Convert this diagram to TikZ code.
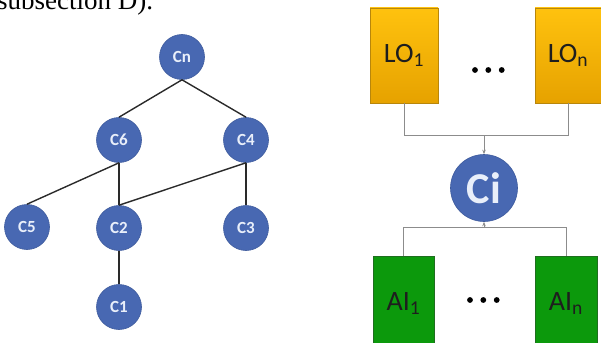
\documentclass[tikz,border=0pt]{standalone}
\usepackage{fontspec}
\setmainfont{Carlito}
\newfontfamily\serifface{Liberation Serif}
\usetikzlibrary{arrows.meta}
\definecolor{nodeblue}{HTML}{4868B2}
\definecolor{nodeedge}{HTML}{3D5A9C}
\definecolor{nodetext}{HTML}{E9EFFA}
\definecolor{goldtop}{HTML}{FFC20E}
\definecolor{goldbot}{HTML}{E6A200}
\definecolor{goldedge}{HTML}{B8860B}
\definecolor{leafgreen}{HTML}{0C990C}
\definecolor{greenedge}{HTML}{1F6E1F}
\definecolor{wire}{HTML}{8C8C8C}
\definecolor{treeline}{HTML}{2A2A2A}
\definecolor{boxtext}{HTML}{1E1E1E}
\begin{document}
\begin{tikzpicture}[x=1pt,y=-1pt,
  cnode/.style={circle,fill=nodeblue,draw=nodeedge,line width=0.6pt,
    minimum size=45pt,inner sep=0pt,text=nodetext,
    font=\bfseries\fontsize{17}{17}\selectfont},
  bignode/.style={cnode,minimum size=67pt,font=\bfseries\fontsize{44}{44}\selectfont},
  lobox/.style={rectangle,top color=goldtop,bottom color=goldbot,
    draw=goldedge,line width=0.6pt,minimum height=95pt,inner sep=0pt,
    text=boxtext,font=\fontsize{28}{28}\selectfont},
  aibox/.style={rectangle,fill=leafgreen,draw=greenedge,line width=0.6pt,
    minimum height=94pt,inner sep=0pt,text=boxtext,
    font=\fontsize{28}{28}\selectfont},
  treeedge/.style={draw=treeline,line width=1.4pt},
  wireline/.style={draw=wire,line width=0.9pt},
  wirearrow/.style={wireline,-{Stealth[length=4.5pt,width=3.5pt]}},
  dotmark/.style={fill=black}
]
\useasboundingbox (0,0) rectangle (601,342);
\clip (0,0) rectangle (601,342);

% running text above the figure, cut by the top edge
\node[anchor=base west,inner sep=0pt,font=\serifface\fontsize{27}{27}\selectfont]
  (caption) at (-3,9.5) {subsection D).};

% concept hierarchy
\node[cnode] (Cn) at (182,57) {Cn};
\node[cnode] (C6) at (119,140) {C6};
\node[cnode] (C4) at (246,140) {C4};
\node[cnode] (C5) at (27,227) {C5};
\node[cnode] (C2) at (119,228) {C2};
\node[cnode] (C3) at (246,228) {C3};
\node[cnode] (C1) at (119,307) {C1};

\draw[treeedge] (Cn.south) -- (C6.north);
\draw[treeedge] (Cn.south) -- (C4.north);
\draw[treeedge] (C6.south) -- (C5.north);
\draw[treeedge] (C6.south) -- (C2.north);
\draw[treeedge] (C4.south) -- (C2.north);
\draw[treeedge] (C4.south) -- (C3.north);
\draw[treeedge] (C2.south) -- (C1.north);

% learning objects and concept
\node[lobox,minimum width=68pt] (LO1) at (404,55.5) {LO\textsubscript{1}};
\node[lobox,minimum width=66pt] (LOn) at (568,55.5) {LO\textsubscript{n}};
\node[bignode] (Ci) at (484,188) {Ci};
\node[aibox,minimum width=61pt] (AI1) at (403.5,303.7) {AI\textsubscript{1}};
\node[aibox,minimum width=62pt] (AIn) at (566,303.7) {AI\textsubscript{n}};

\fill[dotmark] (475,70) circle (2.9pt) (488.3,70) circle (2.9pt) (501.7,70) circle (2.9pt);
\fill[dotmark] (470,300) circle (2.9pt) (483.3,300) circle (2.9pt) (496.7,300) circle (2.9pt);

\coordinate (topjoin) at (484,135);
\coordinate (botjoin) at (484,227);
\draw[wireline] (LO1.south) -- (LO1.south |- topjoin) -- (LOn.south |- topjoin) -- (LOn.south);
\draw[wirearrow] (topjoin) -- (Ci.north);
\draw[wireline] (AI1.north) -- (AI1.north |- botjoin) -- (AIn.north |- botjoin) -- (AIn.north);
\draw[wirearrow] (botjoin) -- (Ci.south);
\end{tikzpicture}
\end{document}
